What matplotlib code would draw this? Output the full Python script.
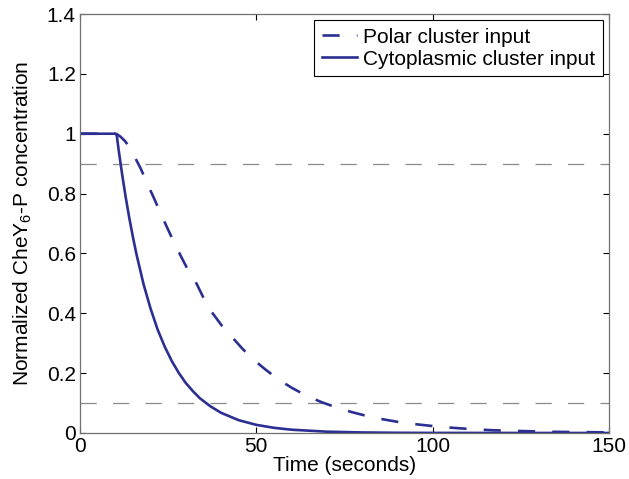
import matplotlib.pyplot as plt

# values
polar_t = [0, 10, 10.5, 11.5, 12.8, 14, 15.1, 17.2, 18.9, 21.0, 22.7, 24.6, 26.5, 28.6,
           30.7, 33.1, 35.0, 37.3, 40.2, 43.0, 46.1, 49.3, 52.7, 56.5, 60.2, 64.3, 68.5,
           72.8, 77.0, 81.3, 85.8, 90.2, 94.7, 99.4, 103.8, 108.5, 112.6, 117.4, 124,
           133, 142, 150]
polar_y = [1, 1, 0.998, 0.99, 0.975, 0.955, 0.932, 0.884, 0.838, 0.784, 0.738, 0.689,
           0.641, 0.591, 0.543, 0.498, 0.452, 0.405, 0.359, 0.322, 0.281, 0.244, 0.211,
           0.177, 0.150, 0.124, 0.103, 0.085, 0.070, 0.057, 0.046, 0.037, 0.030, 0.024,
           0.019, 0.015, 0.012, 0.009, 0.007, 0.004, 0.003, 0.002]

cyto_t = [0, 10, 10.4, 11, 12, 13, 14, 15, 16, 18, 20, 22, 24, 26, 28, 30, 32, 34, 37,
          40, 45, 50, 55, 60, 70, 80, 90, 100, 150]
cyto_y = [1, 1, 0.997, 0.942, 0.860, 0.785, 0.717, 0.655, 0.598, 0.498, 0.416, 0.346,
          0.289, 0.241, 0.201, 0.167, 0.140, 0.116, 0.089, 0.0675, 0.0428, 0.0272,
          0.0173, 0.011, 0.0044, 0.0018, 0.0007, 0.0003, 0.0]

thresholds = [0.9, 0.1]
x_ticks = [0, 50, 100, 150]
y_ticks = [0, 0.2, 0.4, 0.6, 0.8, 1.0, 1.2, 1.4]
y_tick_labels = ['0', '0.2', '0.4', '0.6', '0.8', '1', '1.2', '1.4']

plt.rcParams['font.family'] = ['Liberation Sans', 'DejaVu Sans']
plt.rcParams['font.size'] = 15
plt.rcParams['mathtext.fontset'] = 'custom'
plt.rcParams['mathtext.rm'] = 'Liberation Sans'

line_color = '#2b2f91'

fig = plt.figure(figsize=(6.29, 4.79), dpi=100)
ax = fig.add_axes([80 / 629, 46 / 479, 529 / 629, 419 / 479])

for th in thresholds:
    ax.axhline(th, color='#8a8a8a', lw=0.9, dashes=(13, 13))

ax.plot(polar_t, polar_y, color=line_color, lw=1.9, dashes=(6.5, 6.5),
        label='Polar cluster input')
ax.plot(cyto_t, cyto_y, color=line_color, lw=1.9, label='Cytoplasmic cluster input')

ax.set_xlim(0, 150)
ax.set_ylim(0, 1.4)
ax.set_xticks(x_ticks)
ax.set_yticks(y_ticks)
ax.set_yticklabels(y_tick_labels)
ax.tick_params(direction='in', length=4, width=0.8, top=True, right=True, pad=3)
for sp in ax.spines.values():
    sp.set_color('#707070')
    sp.set_linewidth(0.9)

ax.set_xlabel('Time (seconds)', labelpad=0)
ax.set_ylabel('Normalized CheY$_6$-P concentration', labelpad=9)

leg = ax.legend(loc='upper right', fancybox=False, framealpha=1, edgecolor='black',
                handlelength=1.7, handletextpad=0.3, labelspacing=0.15,
                borderpad=0.35, borderaxespad=0.3)
leg.get_frame().set_linewidth(0.8)

plt.savefig('out.png', dpi=100)
